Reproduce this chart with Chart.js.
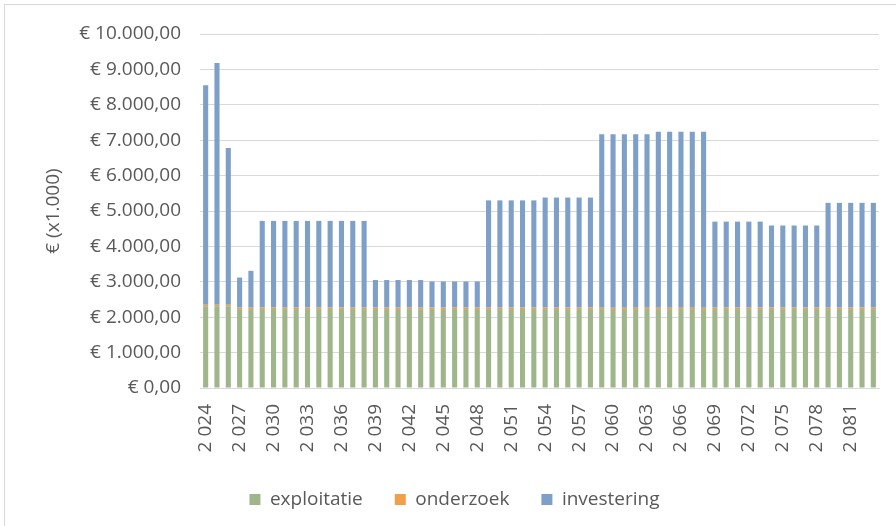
<!DOCTYPE html>
<html>
<head>
<meta charset="utf-8">
<script src="https://cdn.jsdelivr.net/npm/chart.js@4.4.0/dist/chart.umd.min.js"></script>
<style>
    html, body { margin: 0; padding: 0; background: #fff; }
    #wrap { position: relative; width: 896px; height: 526px; overflow: hidden; }
    #frame { position: absolute; left: 4px; top: 4px; width: 900px; height: 530px; border-top: 1px solid #d9d9d9; border-left: 1px solid #d9d9d9; }
    canvas { position: absolute; left: 0; top: 0; }
</style>
</head>
<body>
<div id="wrap">
    <div id="frame"></div>
    <canvas id="kosten" width="896" height="526"></canvas>
</div>
<script>
// jaren 2024 t/m 2083
const jaren = [
    2024, 2025, 2026, 2027, 2028, 2029, 2030, 2031, 2032, 2033,
    2034, 2035, 2036, 2037, 2038, 2039, 2040, 2041, 2042, 2043,
    2044, 2045, 2046, 2047, 2048, 2049, 2050, 2051, 2052, 2053,
    2054, 2055, 2056, 2057, 2058, 2059, 2060, 2061, 2062, 2063,
    2064, 2065, 2066, 2067, 2068, 2069, 2070, 2071, 2072, 2073,
    2074, 2075, 2076, 2077, 2078, 2079, 2080, 2081, 2082, 2083
];

// bedragen in € x1.000
const exploitatie = [
    2310, 2310, 2310, 2230, 2230, 2230, 2230, 2230, 2230, 2230,
    2230, 2230, 2230, 2230, 2230, 2230, 2230, 2230, 2230, 2230,
    2230, 2230, 2230, 2230, 2230, 2230, 2230, 2230, 2230, 2230,
    2230, 2230, 2230, 2230, 2230, 2230, 2230, 2230, 2230, 2230,
    2230, 2230, 2230, 2230, 2230, 2230, 2230, 2230, 2230, 2230,
    2230, 2230, 2230, 2230, 2230, 2230, 2230, 2230, 2230, 2230
];
const onderzoek = [
    40, 40, 40, 40, 40, 40, 40, 40, 40, 40,
    40, 40, 40, 40, 40, 40, 40, 40, 40, 40,
    40, 40, 40, 40, 40, 40, 40, 40, 40, 40,
    40, 40, 40, 40, 40, 40, 40, 40, 40, 40,
    40, 40, 40, 40, 40, 40, 40, 40, 40, 40,
    40, 40, 40, 40, 40, 40, 40, 40, 40, 40
];
const investering = [
    6200, 6830, 4430, 850, 1040, 2450, 2450, 2450, 2450, 2450,
    2450, 2450, 2450, 2450, 2450, 780, 780, 780, 780, 780,
    740, 740, 740, 740, 740, 3030, 3030, 3030, 3030, 3030,
    3110, 3110, 3110, 3110, 3110, 4900, 4900, 4900, 4900, 4900,
    4970, 4970, 4970, 4970, 4970, 2430, 2430, 2430, 2430, 2430,
    2320, 2320, 2320, 2320, 2320, 2960, 2960, 2960, 2960, 2960
];

const tekstKleur = '#595959';
const lettertype = '"Open Sans", "Noto Sans", sans-serif';

// € 10.000,00 notatie
function euro(v) {
    const delen = v.toFixed(2).split('.');
    const heel = delen[0].replace(/\B(?=(\d{3})+(?!\d))/g, '.');
    return '€ ' + heel + ',' + delen[1];
}

// 2024 -> "2 024"
function jaarLabel(j) {
    const s = String(j);
    return s.slice(0, 1) + ' ' + s.slice(1);
}

const ctx = document.getElementById('kosten').getContext('2d');
new Chart(ctx, {
    type: 'bar',
    data: {
        labels: jaren,
        datasets: [
            { label: 'exploitatie', data: exploitatie, backgroundColor: '#9fb68a', stack: 's' },
            { label: 'onderzoek', data: onderzoek, backgroundColor: '#f0a048', stack: 's' },
            { label: 'investering', data: investering, backgroundColor: '#7d9fc8', stack: 's' }
        ]
    },
    options: {
        responsive: false,
        animation: false,
        barPercentage: 0.45,
        categoryPercentage: 1.0,
        layout: { padding: { left: 30, right: 17, top: 34, bottom: 7 } },
        plugins: {
            legend: {
                position: 'bottom',
                labels: {
                    boxWidth: 11,
                    boxHeight: 11,
                    padding: 32,
                    color: tekstKleur,
                    font: { family: lettertype, size: 19 }
                }
            },
            tooltip: { enabled: false }
        },
        scales: {
            x: {
                stacked: true,
                grid: { display: false, drawTicks: false },
                border: { display: true, color: '#d9d9d9', width: 1 },
                ticks: {
                    autoSkip: false,
                    minRotation: 90,
                    maxRotation: 90,
                    padding: 16,
                    color: tekstKleur,
                    font: { family: lettertype, size: 19 },
                    callback: function (val, i) {
                        return i % 3 === 0 ? jaarLabel(jaren[i]) : '';
                    }
                },
                afterFit: function (scale) {
                    scale.height = 70;
                    scale.paddingLeft = 0;
                    scale.paddingRight = 0;
                }
            },
            y: {
                stacked: true,
                min: 0,
                max: 10000,
                grid: { color: '#d9d9d9', lineWidth: 1, drawTicks: false },
                border: { display: false },
                ticks: {
                    stepSize: 1000,
                    padding: 19,
                    color: tekstKleur,
                    font: { family: lettertype, size: 19 },
                    callback: function (v) { return euro(v); }
                },
                title: {
                    display: true,
                    text: '€ (x1.000)',
                    color: tekstKleur,
                    font: { family: lettertype, size: 19 },
                    padding: { top: 12, bottom: 0 }
                },
                afterFit: function (scale) {
                    scale.width = 170;
                    scale.paddingTop = 0;
                    scale.paddingBottom = 0;
                }
            }
        }
    }
});
</script>
</body>
</html>
